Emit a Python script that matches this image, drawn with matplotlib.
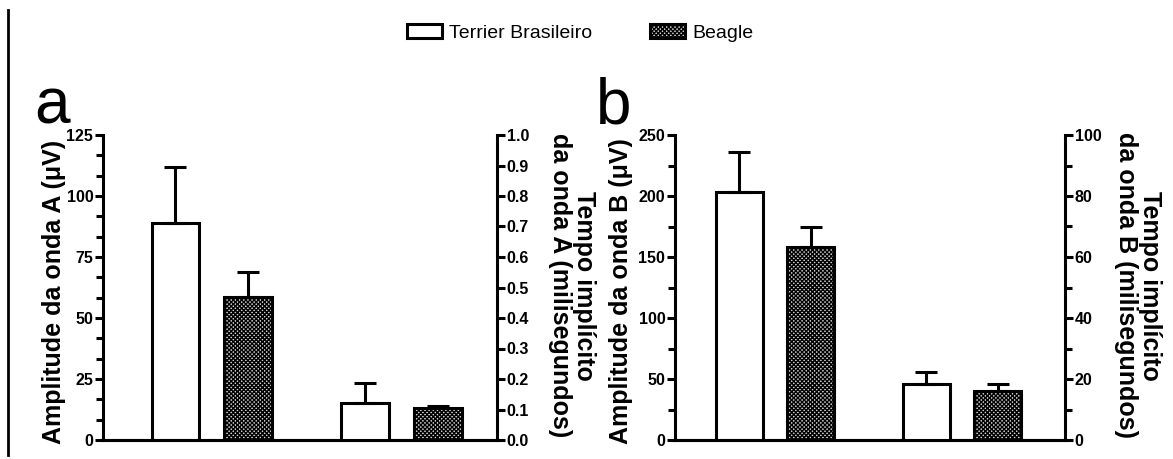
import matplotlib
matplotlib.use("Agg")
import matplotlib.pyplot as plt
from matplotlib.patches import Patch
from matplotlib.lines import Line2D
from matplotlib.ticker import MultipleLocator
from matplotlib.font_manager import FontProperties

# ---- data ----
groups = ["Terrier Brasileiro", "Beagle"]

# Panel a: amplitude (left axis) and implicit time (right axis)
amp_a = [89.0, 58.5]
amp_a_err = [23.0, 10.5]
time_a = [0.12, 0.106]
time_a_err = [0.066, 0.004]

# Panel b
amp_b = [203.0, 158.0]
amp_b_err = [33.0, 16.5]
time_b = [18.5, 16.0]
time_b_err = [3.8, 2.2]

ylabels_left = ["Amplitude da onda A (\u03bcV)", "Amplitude da onda B (\u03bcV)"]
ylabels_right = ["Tempo impl\u00edcito\nda onda A (milisegundos)",
                 "Tempo impl\u00edcito\nda onda B (milisegundos)"]
panel_letters = ["a", "b"]

plt.rcParams['font.family'] = ['Liberation Sans', 'DejaVu Sans']
plt.rcParams['hatch.linewidth'] = 1.0

W, H = 1173, 459
fig = plt.figure(figsize=(W / 100, H / 100), dpi=100)
fig.patch.set_facecolor("white")

LW = 2.2
HATCH = 'x' * 8
HATCH_FACE = '#d4d4d4'
tickfont = dict(family=['Liberation Sans Narrow', 'Liberation Sans'], weight='bold', size=11.5)
labelfont = dict(family=['Liberation Sans', 'DejaVu Sans'], weight='bold', size=18)

positions = [1.0, 2.0, 3.62, 4.62]
bw = 0.66
styles = [dict(facecolor='white', hatch=None), dict(facecolor=HATCH_FACE, hatch=HATCH)]


def make_panel(rect, xlim, amp, amp_err, tm, tm_err, lmax, lmaj, lmin, rmax, rmaj, rmin,
               rfmt, llabel, rlabel, letter, letter_xy, llabel_x, rlabel_x):
    ax = fig.add_axes(rect)
    ax2 = ax.twinx()
    for i in range(2):
        ax.bar(positions[i], amp[i], width=bw, edgecolor='black', linewidth=LW,
               yerr=[[0], [amp_err[i]]], capsize=8,
               error_kw=dict(elinewidth=LW, capthick=LW, ecolor='black'),
               **styles[i], zorder=3)
        ax2.bar(positions[i + 2], tm[i], width=bw, edgecolor='black', linewidth=LW,
                yerr=[[0], [tm_err[i]]], capsize=8,
                error_kw=dict(elinewidth=LW, capthick=LW, ecolor='black'),
                **styles[i], zorder=3)
    ax.set_xlim(*xlim)
    ax.set_ylim(0, lmax)
    ax2.set_ylim(0, rmax)
    ax.yaxis.set_major_locator(MultipleLocator(lmaj))
    ax.yaxis.set_minor_locator(MultipleLocator(lmin))
    ax2.yaxis.set_major_locator(MultipleLocator(rmaj))
    if rmin:
        ax2.yaxis.set_minor_locator(MultipleLocator(rmin))
    else:
        ax2.yaxis.set_minor_locator(plt.NullLocator())
    ax2.yaxis.set_major_formatter(plt.FormatStrFormatter(rfmt))
    for a in (ax, ax2):
        a.spines['top'].set_visible(False)
        for s in ('left', 'right', 'bottom'):
            a.spines[s].set_linewidth(LW)
        a.set_xticks([])
        a.tick_params(axis='y', which='major', length=6, width=LW, pad=1)
        a.tick_params(axis='y', which='minor', length=5, width=LW)
        a.patch.set_visible(False)
    ax.spines['right'].set_visible(False)
    ax2.spines['left'].set_visible(False)
    for lab in ax.get_yticklabels() + ax2.get_yticklabels():
        lab.set_fontproperties(FontProperties(**tickfont))
    # labels
    fig.text(llabel_x, rect[1] + rect[3] / 2 - 4 / H, llabel, rotation=90, ha='center',
             va='center', **labelfont)
    fig.text(rlabel_x, rect[1] + rect[3] / 2 + 2 / H, rlabel, rotation=270, ha='center',
             va='center', multialignment='center', linespacing=1.0, **labelfont)
    fig.text(letter_xy[0], letter_xy[1], letter, fontsize=46, ha='left', va='baseline',
             family=['Liberation Sans', 'DejaVu Sans'])
    return ax, ax2


bottom = 19 / H
height = (440 - 135) / H

make_panel([103 / W, bottom, 394 / W, height], (0.0, 5.44),
           amp_a, amp_a_err, time_a, time_a_err,
           125, 25, 25 / 3, 1.0, 0.1, None, '%.1f',
           ylabels_left[0], ylabels_right[0], panel_letters[0],
           (34 / W, (H - 123) / H), 54 / W, 572 / W)

make_panel([675 / W, bottom, 390 / W, height], (0.1, 5.56),
           amp_b, amp_b_err, time_b, time_b_err,
           250, 50, 25, 100, 20, 10, '%d',
           ylabels_left[1], ylabels_right[1], panel_letters[1],
           (596 / W, (H - 123) / H), 621 / W, 1138 / W)

# legend
handles = [Patch(facecolor='white', edgecolor='black', linewidth=LW, label=groups[0]),
           Patch(facecolor=HATCH_FACE, edgecolor='black', hatch=HATCH, linewidth=LW,
                 label=groups[1])]
fig.legend(handles=handles, loc='center', bbox_to_anchor=(580 / W, (H - 33) / H), ncol=2,
           frameon=False, handlelength=1.8, handleheight=0.7, columnspacing=3.0,
           handletextpad=0.35,
           prop=FontProperties(family=['Liberation Sans Narrow', 'Liberation Sans'], size=14))

# left frame line
fig.add_artist(Line2D([8 / W, 8 / W], [4 / H, (H - 10) / H], transform=fig.transFigure,
                      color='black', linewidth=2))

fig.savefig("out.png", dpi=100, facecolor='white')
